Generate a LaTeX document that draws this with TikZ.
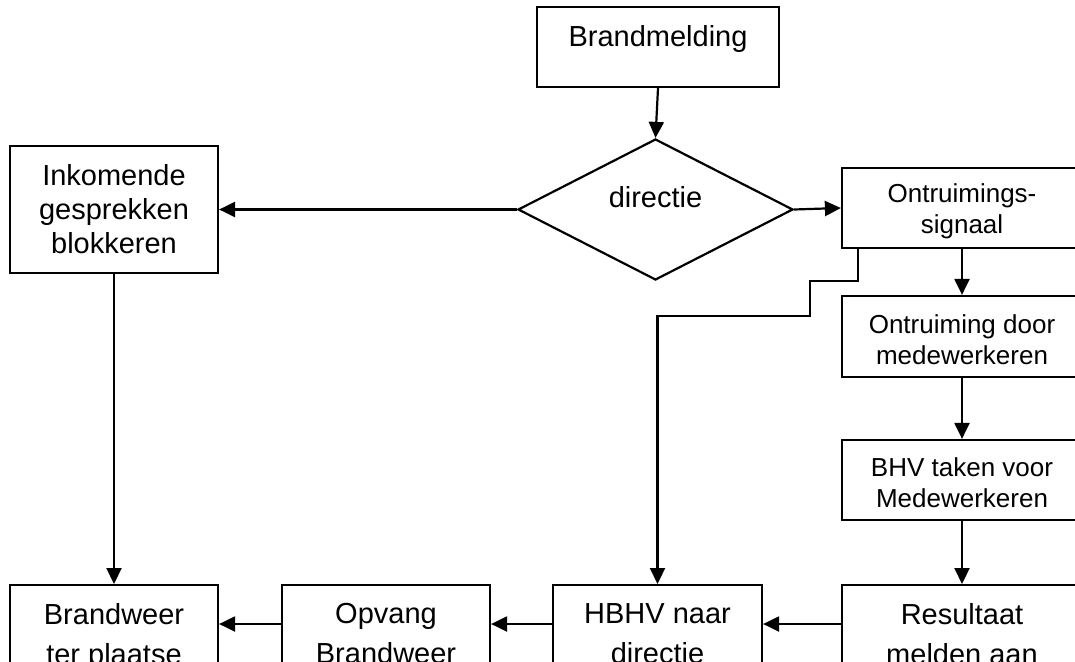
\documentclass[tikz,border=0pt]{standalone}
\usepackage{fontspec}
\setmainfont{Liberation Sans}
\usetikzlibrary{shapes.geometric,arrows.meta}

\newcommand{\bovenrand}{\rule{0pt}{25pt}}

\tikzset{
  blok/.style={draw, line width=2.2pt, align=center, inner sep=0pt, font=\fontsize{29}{34}\selectfont},
  kleinblok/.style={blok, font=\fontsize{26}{31}\selectfont, minimum width=240pt, minimum height=80pt},
  rijblok/.style={blok, anchor=north, inner ysep=18pt, minimum width=208pt, font=\fontsize{29}{40}\selectfont},
  pijl/.style={line width=2.2pt, -{Triangle[length=16pt,width=15pt]}}
}

\begin{document}
\begin{tikzpicture}[x=1pt, y=-1pt]
    \path[use as bounding box] (0,0) rectangle (1075,661);
    \clip (0,0) rectangle (1075,661);

    \node[blok, anchor=base, minimum width=242pt, text height=40pt, text depth=40pt] (melding) at (658,47) {Brandmelding};
    \node[blok, diamond, minimum width=275pt, minimum height=141pt, text height=21pt, text depth=26pt] (keuze) at (655.5,209.5) {directie};
    \node[blok, minimum width=208pt, minimum height=127pt] (inkomend) at (114,209.5) {Inkomende\\gesprekken\\blokkeren};
    \node[kleinblok] (signaal) at (962,208) {\bovenrand Ontruimings-\\signaal};
    \node[kleinblok, minimum height=81pt] (ontruiming) at (962,336.5) {\bovenrand Ontruiming door\\medewerkeren};
    \node[kleinblok] (bhv) at (962,480) {\bovenrand BHV taken voor\\Medewerkeren};

    \node[rijblok] (brandweer) at (114,584) {Brandweer\\ter plaatse};
    \node[rijblok] (opvang) at (386,584) {Opvang\\Brandweer};
    \node[rijblok, minimum width=209pt] (hbhv) at (657.5,584) {HBHV naar\\directie};
    \node[rijblok, minimum width=240pt] (resultaat) at (962,584) {Resultaat\\melden aan};
    \coordinate (rij) at (0,624);

    \path[draw, pijl] (melding.south) -- (keuze.north);
    \path[draw, pijl] (keuze.west) -- (inkomend.east);
    \path[draw, pijl] (keuze.east) -- (signaal.west);
    \path[draw, pijl] (inkomend.south) -- (brandweer.north);
    \path[draw, pijl] (signaal.south) -- (ontruiming.north);
    \path[draw, pijl] (ontruiming.south) -- (bhv.north);
    \path[draw, pijl] (bhv.south) -- (resultaat.north);
    \path[draw, pijl] ([xshift=17pt]signaal.south west) -- ++(0,32) -| (810,316) -| (hbhv.north);

    \path[draw, pijl] (resultaat.west |- rij) -- (hbhv.east |- rij);
    \path[draw, pijl] (hbhv.west |- rij) -- (opvang.east |- rij);
    \path[draw, pijl] (opvang.west |- rij) -- (brandweer.east |- rij);
\end{tikzpicture}
\end{document}
